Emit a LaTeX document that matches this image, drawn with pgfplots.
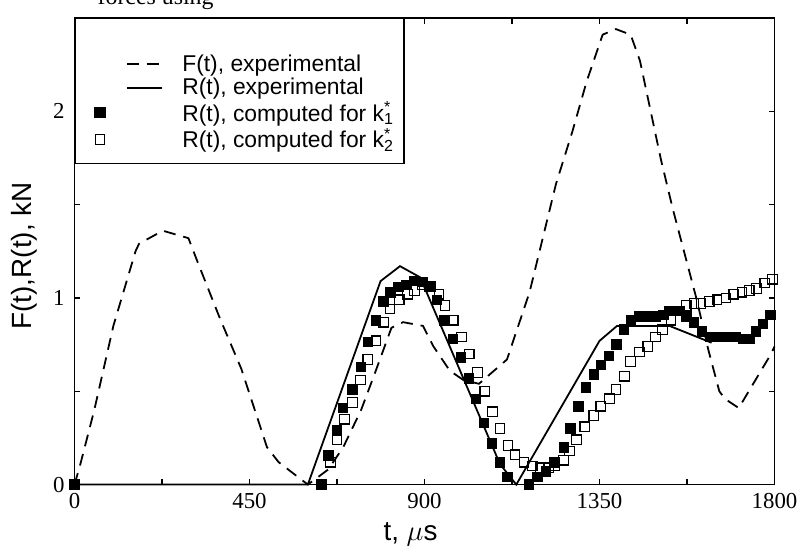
\documentclass[border=0pt]{standalone}
\usepackage{fontspec}
\setmainfont{Liberation Sans}
\newfontfamily\timesf{Liberation Serif}
\usepackage{pgfplots}
\pgfplotsset{compat=1.18}
\usetikzlibrary{calc}
\pgfplotsset{
    sqlegend/.style={legend image code/.code={%
        \path (-10pt,0pt) (31pt,0pt);
        \draw[##1] plot coordinates {(0pt,0pt)};}},
    lnlegend/.style={legend image code/.code={%
        \path (-10pt,0pt) (31pt,0pt);
        \draw[##1] (13.5pt,0pt) -- (31pt,0pt);}},
    lnlegendtop/.style={legend image code/.code={%
        \path (-10pt,0pt) (31pt,0pt) (0pt,17pt);
        \draw[##1] (13.5pt,0pt) -- (31pt,0pt);}},
}

\begin{document}
\begin{tikzpicture}
\begin{axis}[
    name=ax,
    scale only axis,
    width=352.5pt, height=235pt,
    xmin=0, xmax=1800, ymin=0, ymax=2.5,
    xtick={0,225,...,1800},
    xticklabels={0,,450,,900,,1350,,1800},
    ytick={0,0.5,...,2.5},
    yticklabels={0,,1,,2,},
    tick align=inside,
    major tick length=3pt,
    tick style={line width=0.6pt, black},
    axis line style={line width=0.8pt},
    tick label style={font=\timesf\fontsize{11.5}{12}\selectfont},
    xticklabel style={yshift=-1pt},
    yticklabel style={xshift=-1.5pt},
    xlabel={t, $\mu$s},
    ylabel={F(t),R(t), kN},
    label style={font=\fontsize{14}{16}\selectfont},
    x label style={at={(axis description cs:0.48,0)}, anchor=center, yshift=-25pt},
    y label style={at={(axis description cs:-0.071,0.49)}, anchor=center, rotate=0},
    clip=false,
    legend style={at={(0,1)}, anchor=north west, draw=black, line width=0.8pt,
        inner xsep=2pt, inner ysep=5.5pt,
        font=\fontsize{11.5}{13}\selectfont,
        nodes={inner xsep=3pt, inner ysep=1pt}, cells={anchor=west}},
]
% F(t), experimental
\addplot[black, line width=0.9pt, dash pattern=on 6pt off 4pt, lnlegendtop] coordinates {
    (0,0) (14,0.10) (51,0.40) (100,0.85) (157,1.25) (166,1.29) (227,1.36)
    (293,1.32) (317,1.19) (374,0.89) (429,0.62) (495,0.20) (525,0.12)
    (600,0.0) (652,0.08) (691,0.20) (737,0.40) (773,0.60) (815,0.84)
    (845,0.87) (896,0.85) (923,0.74) (965,0.61) (1000,0.56) (1040,0.54)
    (1112,0.67) (1170,1.03) (1204,1.32) (1238,1.61) (1280,1.89) (1317,2.16)
    (1358,2.41) (1392,2.44) (1430,2.41) (1454,2.27) (1508,1.74) (1538,1.48)
    (1600,0.99) (1630,0.72) (1658,0.50) (1672,0.46) (1708,0.41) (1748,0.55)
    (1791,0.70) (1800,0.74)
};
\addlegendentry{\hspace{7pt}F(t), experimental}
% R(t), experimental
\addplot[black, line width=0.9pt, lnlegend] coordinates {
    (0,0) (600,0) (787,1.09) (837,1.17) (889,1.11) (1094,0.11) (1136,0.0)
    (1350,0.77) (1395,0.85) (1530,0.85) (1638,0.76)
};
\addlegendentry{\hspace{7pt}R(t), experimental}
% R(t), computed for k1*
\addplot[black, only marks, mark=square*, mark size=2.4pt, sqlegend] coordinates {
    (0,0) (635,0) (653,0.155) (675,0.29) (690,0.41) (714,0.51) (736,0.63)
    (755,0.765) (775,0.88) (794,0.98) (812,1.03) (833,1.06) (853,1.07)
    (874,1.09) (894,1.085) (912,1.06) (932,0.99) (951,0.88) (973,0.78)
    (993,0.68) (1014,0.57) (1032,0.46) (1053,0.33) (1073,0.22) (1094,0.12)
    (1113,0.04) (1168,0.0) (1190,0.04) (1212,0.07) (1234,0.12) (1258,0.20)
    (1275,0.30) (1295,0.42) (1315,0.52) (1335,0.59) (1354,0.64) (1374,0.69)
    (1393,0.75) (1413,0.83) (1431,0.88) (1451,0.90) (1471,0.90) (1494,0.90)
    (1514,0.91) (1530,0.93) (1550,0.93) (1573,0.90) (1593,0.87) (1613,0.82)
    (1635,0.79) (1655,0.79) (1676,0.79) (1699,0.79) (1719,0.78) (1737,0.78)
    (1752,0.82) (1770,0.86) (1790,0.91)
};
\addlegendentry{\hspace{7pt}R(t), computed for k\rlap{\textsuperscript{*}}\textsubscript{1}}
% R(t), computed for k2*
\addplot[black, only marks, mark=square, mark size=2.4pt, mark options={line width=0.6pt}, sqlegend] coordinates {
    (658,0.12) (675,0.24) (694,0.35) (715,0.44) (735,0.56) (754,0.67)
    (775,0.77) (795,0.87) (811,0.94) (835,0.99) (856,1.02) (874,1.04)
    (894,1.07) (915,1.06) (937,1.02) (953,0.96) (974,0.88) (995,0.79)
    (1015,0.70) (1036,0.60) (1055,0.50) (1075,0.39) (1094,0.30) (1115,0.21)
    (1133,0.16) (1156,0.12) (1177,0.10) (1197,0.09) (1219,0.09) (1235,0.10)
    (1257,0.13) (1273,0.18) (1291,0.24) (1312,0.31) (1335,0.37) (1353,0.42)
    (1376,0.46) (1392,0.51) (1414,0.58) (1430,0.66) (1453,0.71) (1474,0.74)
    (1494,0.79) (1512,0.83) (1534,0.88) (1555,0.93) (1573,0.96) (1593,0.97)
    (1611,0.97) (1632,0.98) (1652,0.99) (1675,1.00) (1695,1.02) (1716,1.03)
    (1735,1.04) (1754,1.05) (1775,1.08) (1795,1.10)
};
\addlegendentry{\hspace{7pt}R(t), computed for k\rlap{\textsuperscript{*}}\textsubscript{2}}
\end{axis}
\path ($(ax.south west)+(-37.5pt,0pt)$);
\begin{scope}
\clip ($(ax.north west)+(-10pt,0pt)$) rectangle ($(ax.north west)+(90pt,9pt)$);
\node[anchor=base west, inner sep=0pt, font=\timesf\fontsize{12}{14}\selectfont]
    at ($(ax.north west)+(11.5pt,6.5pt)$) {forces using};
\end{scope}
\end{tikzpicture}
\end{document}
